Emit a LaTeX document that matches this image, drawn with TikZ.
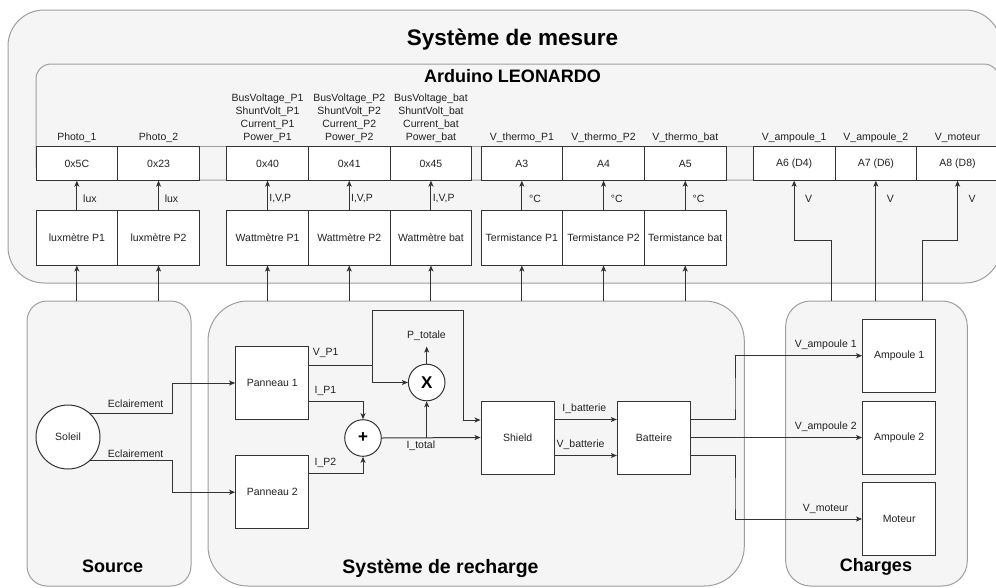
\documentclass[tikz,border=0pt]{standalone}
\usepackage{fontspec}
\setmainfont{Liberation Sans}
\usetikzlibrary{arrows.meta,calc}
\definecolor{contfill}{HTML}{F5F5F5}
\definecolor{contline}{HTML}{9E9E9E}
\definecolor{lncol}{HTML}{333333}
\definecolor{tx}{HTML}{222222}
\begin{document}
\begin{tikzpicture}[x=1pt,y=-1pt,
  cont/.style={draw=contline, fill=contfill, line width=1pt, inner sep=0pt},
  blk/.style={draw=lncol, fill=white, line width=1pt, inner sep=0pt, font=\fontsize{10.5}{12}\selectfont, text=tx},
  adr/.style={blk, minimum width=81.7pt, minimum height=33.3pt},
  sen/.style={blk, minimum width=81.7pt, minimum height=55pt},
  bx/.style={blk, minimum width=73.3pt, minimum height=73pt},
  opc/.style={blk, circle, minimum size=36.6pt, font=\bfseries\fontsize{17}{18}\selectfont, text=black},
  lbl/.style={font=\fontsize{10.5}{13}\selectfont, text=tx, inner sep=0pt},
  arr/.style={draw=lncol, line width=1pt, -{Stealth[length=6pt,width=5pt,inset=1.5pt]}},
  wire/.style={draw=lncol, line width=1pt},
  ttl/.style={text=black, inner sep=0pt},
]
\useasboundingbox (0,0) rectangle (996,587);

% containers
\node[cont, rounded corners=36pt, minimum width=993pt, minimum height=273pt] (mesure) at (504.5,146.5) {};
\node[cont, rounded corners=15pt, minimum width=963pt, minimum height=116pt] (arduino) at (517.5,122) {};
\draw[contline, line width=1pt] (36,146.7) -- (999,146.7);
\node[cont, rounded corners=20pt, minimum width=164pt, minimum height=285pt] (src) at (109,443.5) {};
\node[cont, rounded corners=40pt, minimum width=536.3pt, minimum height=285pt] (rech) at (476.15,443.5) {};
\node[cont, rounded corners=25pt, minimum width=181.6pt, minimum height=285pt] (charges) at (876.5,443.5) {};

% titles
\node[ttl, font=\bfseries\fontsize{22.5}{24}\selectfont] (tmes) at (512.5,40) {Système de mesure};
\node[ttl, font=\bfseries\fontsize{18}{20}\selectfont] (tard) at (512.5,76) {Arduino LEONARDO};
\node[ttl, font=\bfseries\fontsize{18}{20}\selectfont] (tsrc) at (112.7,566.7) {Source};
\node[ttl, font=\bfseries\fontsize{19.5}{21}\selectfont] (trech) at (440.5,568.3) {Système de recharge};
\node[ttl, font=\bfseries\fontsize{18}{20}\selectfont] (tch) at (876,566.7) {Charges};

% address boxes
\node[adr] (ad1) at (76.85,163.5) {0x5C};
\node[adr] (ad2) at (158.55,163.5) {0x23};
\node[adr] (ad3) at (267.55,163.5) {0x40};
\node[adr] (ad4) at (349.25,163.5) {0x41};
\node[adr] (ad5) at (430.95,163.5) {0x45};
\node[adr] (ad6) at (521.85,163.5) {A3};
\node[adr] (ad7) at (603.55,163.5) {A4};
\node[adr] (ad8) at (685.25,163.5) {A5};
\node[adr] (ad9) at (794.15,163.5) {A6 (D4)};
\node[adr] (ad10) at (875.85,163.5) {A7 (D6)};
\node[adr] (ad11) at (957.55,163.5) {A8 (D8)};

% labels above
\node[lbl, anchor=base] (n1) at (76.85,140.5) {Photo\_1};
\node[lbl, anchor=base] (n2) at (158.55,140.5) {Photo\_2};
\node[lbl, anchor=south, align=center] (n3) at (267.55,143) {BusVoltage\_P1\\ShuntVolt\_P1\\Current\_P1\\Power\_P1};
\node[lbl, anchor=south, align=center] (n4) at (349.25,143) {BusVoltage\_P2\\ShuntVolt\_P2\\Current\_P2\\Power\_P2};
\node[lbl, anchor=south, align=center] (n5) at (430.95,143) {BusVoltage\_bat\\ShuntVolt\_bat\\Current\_bat\\Power\_bat};
\node[lbl, anchor=base] (n6) at (521.85,140.5) {V\_thermo\_P1};
\node[lbl, anchor=base] (n7) at (603.55,140.5) {V\_thermo\_P2};
\node[lbl, anchor=base] (n8) at (685.25,140.5) {V\_thermo\_bat};
\node[lbl, anchor=base] (n9) at (794.15,140.5) {V\_ampoule\_1};
\node[lbl, anchor=base] (n10) at (875.85,140.5) {V\_ampoule\_2};
\node[lbl, anchor=base] (n11) at (957.55,140.5) {V\_moteur};

% sensors
\node[sen] (s1) at (76.85,237.5) {luxmètre P1};
\node[sen] (s2) at (158.55,237.5) {luxmètre P2};
\node[sen] (s3) at (267.55,237.5) {Wattmètre P1};
\node[sen] (s4) at (349.25,237.5) {Wattmètre P2};
\node[sen] (s5) at (430.95,237.5) {Wattmètre bat};
\node[sen] (s6) at (521.85,237.5) {Termistance P1};
\node[sen] (s7) at (603.55,237.5) {Termistance P2};
\node[sen] (s8) at (685.25,237.5) {Termistance bat};

% sensor -> address
\draw[arr] (s1.north) -- (ad1.south);
\draw[arr] (s2.north) -- (ad2.south);
\draw[arr] (s3.north) -- (ad3.south);
\draw[arr] (s4.north) -- (ad4.south);
\draw[arr] (s5.north) -- (ad5.south);
\draw[arr] (s6.north) -- (ad6.south);
\draw[arr] (s7.north) -- (ad7.south);
\draw[arr] (s8.north) -- (ad8.south);
\node[lbl, anchor=west] (e1) at (83,199) {lux};
\node[lbl, anchor=west] (e2) at (164.6,199) {lux};
\node[lbl, anchor=west] (e3) at (269.2,199) {I,V,P};
\node[lbl, anchor=west] (e4) at (350.9,199) {I,V,P};
\node[lbl, anchor=west] (e5) at (432.6,199) {I,V,P};
\node[lbl, anchor=west] (e6) at (529,199) {°C};
\node[lbl, anchor=west] (e7) at (610.7,199) {°C};
\node[lbl, anchor=west] (e8) at (692.4,199) {°C};
\node[lbl, anchor=west] (e9) at (805,199) {V};
\node[lbl, anchor=west] (e10) at (886.7,199) {V};
\node[lbl, anchor=west] (e11) at (968.4,199) {V};

% source / recharge -> sensors
\draw[arr] (s1 |- src.north) -- (s1.south);
\draw[arr] (s2 |- src.north) -- (s2.south);
\draw[arr] (s3 |- rech.north) -- (s3.south);
\draw[arr] (s4 |- rech.north) -- (s4.south);
\draw[arr] (s5 |- rech.north) -- (s5.south);
\draw[arr] (s6 |- rech.north) -- (s6.south);
\draw[arr] (s7 |- rech.north) -- (s7.south);
\draw[arr] (s8 |- rech.north) -- (s8.south);

% charges -> V inputs
\coordinate (k1) at (831,240);
\coordinate (k3) at (922,240);
\draw[arr] (k1 |- charges.north) -- (k1) -| (ad9.south);
\draw[arr] (ad10 |- charges.north) -- (ad10.south);
\draw[arr] (k3 |- charges.north) -- (k3) -| (ad11.south);

% lower diagram
\node[blk, circle, minimum size=64pt] (sol) at (68,437) {Soleil};
\node[bx] (p1) at (272.3,383) {Panneau 1};
\node[bx] (p2) at (272.3,492.2) {Panneau 2};
\node[opc] (plus) at (363,438) {+};
\node[opc] (xm) at (426.7,382.5) {X};
\node[bx] (shield) at (517.7,437.5) {Shield};
\node[bx] (batt) at (654,437.5) {Batteire};
\node[bx] (amp1) at (899.2,355.7) {Ampoule 1};
\node[bx] (amp2) at (899.2,437.5) {Ampoule 2};
\node[bx] (mot) at (899.2,519) {Moteur};

\draw[arr] (sol.47) -- ++(82,0) |- (p1.west);
\draw[arr] (sol.-47) -- ++(82,0) |- (p2.west);
\node[lbl] (l1) at (135.7,403.3) {Eclairement};
\node[lbl] (l2) at (135.7,454) {Eclairement};

\coordinate (br) at (372.3,365);
\coordinate (topc) at (463.3,310);
\draw[wire] ([yshift=18pt]p1.east) -- (br);
\draw[arr] (br) |- (xm.west);
\draw[arr] (br) |- (topc) |- ([yshift=17.5pt]shield.west);
\draw[arr] ([yshift=-18.5pt]p1.east) -| (plus.north);
\draw[arr] ([yshift=18.7pt]p2.east) -| (plus.south);
\draw[arr] (plus.east) -- (shield.west);
\draw[arr] (xm |- plus.east) -- (xm.south);
\coordinate (ptop) at (426.7,346.5);
\draw[arr] (xm.north) -- (ptop);
\node[lbl] (l3) at (325.7,353.3) {V\_P1};
\node[lbl] (l4) at (325.5,390.7) {I\_P1};
\node[lbl] (l5) at (325.5,463.3) {I\_P2};
\node[lbl] (l6) at (426.5,336) {P\_totale};
\node[lbl] (l7) at (420.8,445.7) {I\_total};

\draw[arr] ([yshift=18pt]shield.east) -- ([yshift=18pt]batt.west);
\draw[arr] ([yshift=-18pt]shield.east) -- ([yshift=-18pt]batt.west);
\node[lbl] (l8) at (584.3,409) {I\_batterie};
\node[lbl] (l9) at (580.5,445) {V\_batterie};

\coordinate (bk1) at (735,400);
\coordinate (bk2) at (735,500);
\draw[arr] ([yshift=18pt]batt.east) -| (bk1) |- (amp1.west);
\draw[arr] (batt.east) -- (amp2.west);
\draw[arr] ([yshift=-18pt]batt.east) -| (bk2) |- (mot.west);
\node[lbl] (l10) at (825.7,344.3) {V\_ampoule 1};
\node[lbl] (l11) at (825.7,426.7) {V\_ampoule 2};
\node[lbl] (l12) at (825.7,509) {V\_moteur};
\end{tikzpicture}
\end{document}
